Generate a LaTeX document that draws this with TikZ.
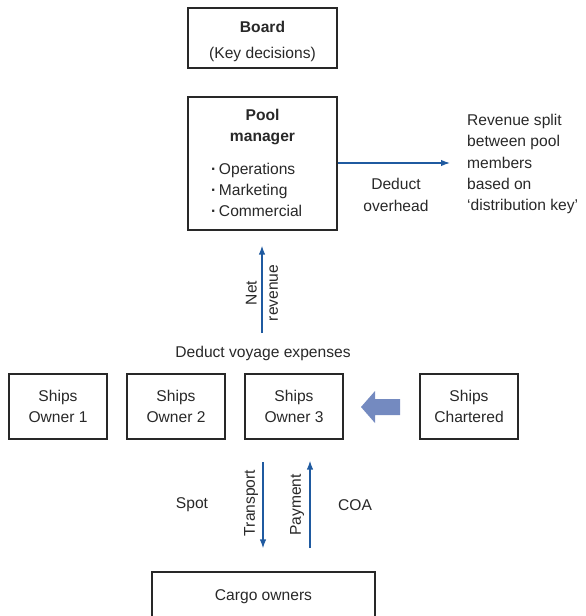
\documentclass[tikz,border=0pt]{standalone}
\usepackage{fontspec}
\setmainfont{Liberation Sans}
\usetikzlibrary{arrows.meta}

\definecolor{flowblue}{RGB}{31,90,160}
\definecolor{charterblue}{RGB}{116,138,192}
\definecolor{boxline}{RGB}{40,40,40}

\begin{document}
\begin{tikzpicture}[x=1pt, y=-1pt,
    every node/.style = {font=\fontsize{15.6}{21.3}\selectfont, text=boxline},
    unit/.style = {draw=boxline, line width=1.2pt, inner sep=0pt, minimum width=98pt, minimum height=65pt, align=center},
    head/.style = {draw=boxline, line width=1.2pt, inner sep=0pt, minimum width=149pt},
    plain/.style = {inner sep=0pt, align=center},
    flow/.style = {draw=flowblue, line width=1.3pt, -{Latex[length=9pt, width=6.5pt]}}]
   \useasboundingbox (0,0) rectangle (586,616);
   \clip (0,0) rectangle (586,616);

   % board and pool manager
   \node[head, minimum height=60pt] (board) at (262.5,38) {};
   \node[plain] (boardtxt) at (262.5,41.5) {\textbf{Board}\\[4pt](Key decisions)};
   \node[head, minimum height=133pt] (pm) at (262.5,163.5) {};
   \node[plain] (pmtxt) at (262.5,127) {\textbf{Pool}\\\textbf{manager}};
   \node[plain, anchor=west, align=left] (tasks) at (211,190)
      {\textbf{·}\,Operations\\\textbf{·}\,Marketing\\\textbf{·}\,Commercial};

   % revenue split
   \coordinate (rs) at (450,163);
   \node[plain, anchor=west, align=left] (split) at (467,164)
      {Revenue split\\between pool\\members\\based on\\`distribution key'};
   \node[plain] (overhead) at (396,195) {Deduct\\overhead};
   \draw[flow] (pm.east |- rs) -- (rs);

   % net revenue
   \coordinate (nr) at (262,333);
   \draw[flow] (nr) -- ([yshift=-15pt]pm.south -| nr);
   \node[plain, rotate=90] (netrev) at (262,293) {Net\\revenue};
   \node[plain] (voyage) at (263,353) {Deduct voyage expenses};

   % ships
   \node[unit] (so1) at (58,406.5) {Ships\\Owner 1};
   \node[unit] (so2) at (176,406.5) {Ships\\Owner 2};
   \node[unit] (so3) at (294,406.5) {Ships\\Owner 3};
   \node[unit] (sc) at (469,406.5) {Ships\\Chartered};
   \fill[charterblue] (400,399) -- (375,399) -- (375,391) -- (361,407)
      -- (375,423) -- (375,415) -- (400,415) -- cycle;

   % cargo owners
   \node[draw=boxline, line width=1.2pt, minimum width=223pt, minimum height=52pt,
      inner sep=0pt] (cargo) at (263.5,598) {};
   \node[plain] (cargotxt) at (263.5,597) {Cargo owners};
   \coordinate (tr) at (263,462);
   \coordinate (pay) at (310,548);
   \draw[flow] (tr) -- ([yshift=23pt]cargo.north -| tr);
   \draw[flow] (pay) -- ([yshift=-21pt]so3.south -| pay);
   \node[plain, rotate=90] (transport) at (251,503) {Transport};
   \node[plain, rotate=90] (payment) at (297,505) {Payment};
   \node[plain] (spot) at (192,505) {Spot};
   \node[plain] (coa) at (355,505) {COA};
\end{tikzpicture}
\end{document}
